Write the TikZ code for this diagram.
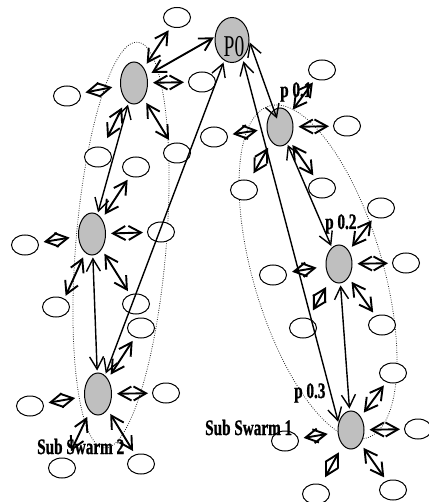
\documentclass[tikz,border=0pt]{standalone}
\usepackage{graphicx}
\usepackage{fontspec}
\setmainfont{Liberation Serif}
\newfontfamily\labfont{Liberation Serif}[BoldFeatures={FakeBold=1.2}]
\usetikzlibrary{arrows.meta,shapes.geometric}
\begin{document}
\begin{tikzpicture}[x=1pt,y=-1pt,
  gnode/.style={ellipse,draw,line width=1pt,fill=gray!50,inner sep=0pt,minimum width=27pt,minimum height=42pt},
  pnode/.style={gnode,minimum width=34pt,minimum height=45pt},
  bnode/.style={gnode,minimum width=26pt,minimum height=38pt},
  wnode/.style={ellipse,draw,line width=1pt,fill=white,inner sep=0pt,minimum width=27pt,minimum height=20pt},
  dar/.style={{Straight Barb[length=12.5pt,width=14pt]}-{Straight Barb[length=12.5pt,width=14pt]},line width=1.9pt,shorten <=5pt,shorten >=4pt},
  lar/.style={dar,line width=1.4pt},
  swarm/.style={line width=0.8pt,black!85,dash pattern=on 0.8pt off 1.5pt},
  lab/.style={inner sep=0pt,font=\labfont\fontsize{15.2}{15}\selectfont\bfseries,anchor=base west},
]
\useasboundingbox (0,0) rectangle (428,502);
% swarm outlines
\draw[swarm,rotate around={-4.7:(121,245)}] (121,245) ellipse [x radius=45.2pt, y radius=203.6pt];
\draw[swarm,rotate around={16.35:(318,272)}] (318,272) ellipse [x radius=64.8pt, y radius=173pt];
% grey particles
\node[pnode] (P0) at (232,40) {};
\node[gnode] (A1) at (134,83) {};
\node[gnode] (A2) at (92,234) {};
\node[gnode] (A3) at (98,394) {};
\node[bnode] (B1) at (280,127) {};
\node[bnode] (B2) at (339,264) {};
\node[bnode] (B3) at (351,430) {};
% white particles, sub swarm 2
\node[wnode] (a1) at (177,17.5) {};
\node[wnode] (a2) at (67,96) {};
\node[wnode] (a3) at (202,82) {};
\node[wnode] (a4) at (177,153) {};
\node[wnode] (a5) at (98,157) {};
\node[wnode] (a6) at (136,167) {};
\node[wnode] (a7) at (25,245) {};
\node[wnode] (a8) at (161,232) {};
\node[wnode] (a9) at (56,307) {};
\node[wnode] (a10) at (136,304) {};
\node[wnode] (a11) at (141,328) {};
\node[wnode] (a12) at (30,406) {};
\node[wnode] (a13) at (166,393) {};
\node[wnode] (a14) at (62,468) {};
\node[wnode] (a15) at (141,464) {};
% white particles, sub swarm 1
\node[wnode] (b1) at (322,70) {};
\node[wnode] (b2) at (347,126) {};
\node[wnode] (b3) at (214,137) {};
\node[wnode] (b4) at (322,188) {};
\node[wnode] (b5) at (244,190) {};
\node[wnode] (b6) at (381,208) {};
\node[wnode] (b7) at (406,263) {};
\node[wnode] (b8) at (273,275) {};
\node[wnode] (b9) at (303,328) {};
\node[wnode] (b10) at (382,325) {};
\node[wnode] (b11) at (393,373) {};
\node[wnode] (b12) at (418,429) {};
\node[wnode] (b13) at (285,441) {};
\node[wnode] (b14) at (316,494) {};
\node[wnode] (b15) at (393,490) {};
% long links
\draw[dar, shorten <=5pt, shorten >=1pt] (A1.30) -- (P0.170);
\draw[lar, shorten <=2pt, shorten >=2pt] (P0) -- (A3);
\draw[lar, shorten <=1pt, shorten >=9pt] (P0.-5) -- (B1.center);
\draw[lar, shorten <=3pt, shorten >=1pt] (P0.-60) -- (B3.150);
\draw[lar, shorten <=2pt, shorten >=2pt] (A1) -- (A2);
\draw[lar, shorten <=2pt, shorten >=2pt] (A2) -- (A3);
\draw[lar, shorten <=1.5pt, shorten >=1.5pt] (B1) -- (B2);
\draw[lar, shorten <=2pt, shorten >=2pt] (B2) -- (B3);
% A1
\draw[dar] (A1) -- (a1);
\draw[dar, shorten <=8pt, shorten >=5pt] (A1) -- (a2);
\draw[dar] (A1) -- (a3);
\draw[dar] (A1) -- (a4);
\draw[dar, shorten <=8pt, shorten >=10pt] (A1) -- (a5);
% A2
\draw[dar] (A2) -- (a6);
\draw[dar, shorten <=8.5pt, shorten >=5pt] (A2) -- (a7);
\draw[dar] (A2) -- (a8);
\draw[dar, shorten >=3pt] (A2.-110) -- (a9.45);
\draw[dar] (A2) -- (a10);
% A3
\draw[dar] (A3) -- (a11);
\draw[dar, shorten <=9pt, shorten >=5pt] (A3) -- (a12);
\draw[dar] (A3) -- (a13);
\draw[dar, shorten <=6pt, shorten >=8pt] (A3) -- (a14.60);
\draw[dar] (A3) -- (a15);
% B1
\draw[dar] (B1) -- (b1);
\draw[dar] (B1) -- (b2);
\draw[dar, shorten <=9pt, shorten >=5pt] (B1) -- (b3);
\draw[dar] (B1) -- (b4);
\draw[dar, shorten <=6.5pt, shorten >=8pt] (B1) -- (b5);
% B2
\draw[dar] (B2) -- (b6);
\draw[dar] (B2) -- (b7);
\draw[dar, shorten <=9pt, shorten >=5.5pt] (B2) -- (b8);
\draw[dar, shorten <=9pt, shorten >=9pt] (B2) -- (b9);
\draw[dar] (B2) -- (b10);
% B3
\draw[dar] (B3) -- (b11);
\draw[dar] (B3) -- (b12);
\draw[dar, shorten <=10pt, shorten >=5pt] (B3) -- (b13);
\draw[dar, shorten <=8pt, shorten >=8pt] (B3) -- (b14);
\draw[dar] (B3) -- (b15);
% texts
\node[inner sep=0pt,anchor=base west,font=\fontsize{19.5}{19}\selectfont] (t0) at (223.5,57) {\scalebox{1}[1.55]{P0}};
\node[lab] (t1) at (280,97) {\scalebox{1}[1.45]{p 0.1}};
\node[lab] (t2) at (325,229) {\scalebox{1}[1.45]{p 0.2}};
\node[lab] (t3) at (294,398) {\scalebox{1}[1.45]{p 0.3}};
\node[lab] (s1) at (205,435) {\scalebox{1}[1.45]{Sub Swarm 1}};
\node[lab] (s2) at (37,454) {\scalebox{1}[1.45]{Sub Swarm 2}};
\end{tikzpicture}
\end{document}
